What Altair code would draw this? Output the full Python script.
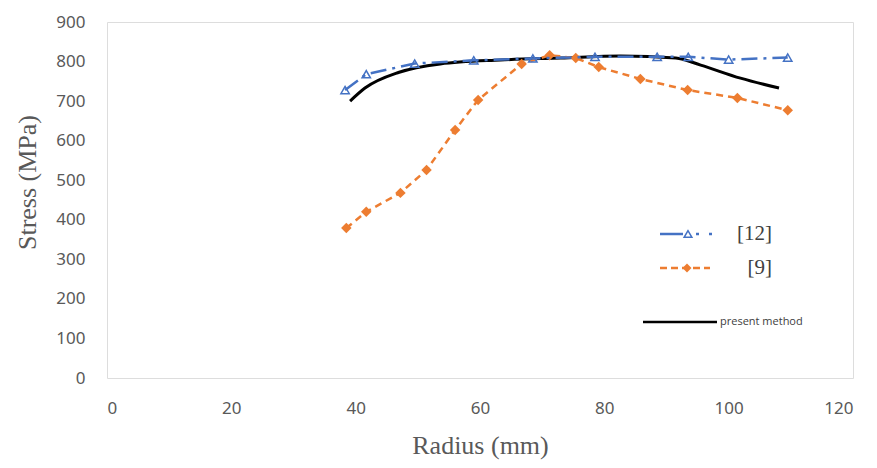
import altair as alt
import pandas as pd

# [12] series (blue, triangles)
r12 = [38.3, 41.7, 49.5, 59.0, 68.5, 78.5, 88.5, 93.5, 100.0, 109.5]
s12 = [728, 768, 795, 803, 808, 812, 812, 812, 805, 810]

# [9] series (orange, diamonds)
r9 = [38.5, 41.7, 47.2, 51.4, 56.0, 59.7, 66.7, 71.2, 75.4, 79.1, 85.8, 93.4, 101.4, 109.5]
s9 = [379, 420, 468, 526, 627, 703, 794, 816, 809, 786, 756, 728, 708, 677]

# present method (black line)
rp = [39.1, 41.5, 47.0, 53.6, 63.3, 73.0, 82.6, 91.5, 95.5, 101.9, 108.1]
sp = [700, 733, 773, 794, 804, 809, 814, 809, 791, 758, 733]

x_ticks = [0, 20, 40, 60, 80, 100, 120]
y_ticks = [0, 100, 200, 300, 400, 500, 600, 700, 800, 900]

BLUE = "#4472C4"
ORANGE = "#ED7D31"
GRAY = "#595959"

d12 = pd.DataFrame({"r": r12, "s": s12})
d9 = pd.DataFrame({"r": r9, "s": s9})
dp = pd.DataFrame({"r": rp, "s": sp})

xs = alt.Scale(domain=[0, 120], nice=False)
ys = alt.Scale(domain=[0, 900], nice=False)

x_axis = alt.Axis(
    values=x_ticks, title="Radius (mm)", domain=False, ticks=False, grid=False,
    labelOverlap=False,
    labelFont="Noto Sans", labelFontSize=17, labelColor=GRAY, labelPadding=22,
    titleFont="Liberation Serif", titleFontSize=26, titleColor=GRAY,
    titleFontWeight="normal", titlePadding=16)
y_axis = alt.Axis(
    values=y_ticks, title="Stress (MPa)", domain=False, ticks=False, grid=False,
    labelOverlap=False,
    labelFont="Noto Sans", labelFontSize=17, labelColor=GRAY, labelPadding=22,
    titleFont="Liberation Serif", titleFontSize=26, titleColor=GRAY,
    titleFontWeight="normal", titleX=-80, titleY=160, titleAngle=-90,
    titleAlign="center", titleBaseline="middle")


def enc(ch):
    return ch.encode(x=alt.X("r:Q", scale=xs, axis=x_axis), y=alt.Y("s:Q", scale=ys, axis=y_axis))


black = enc(alt.Chart(dp).mark_line(color="black", strokeWidth=3, interpolate="monotone"))
l9 = enc(alt.Chart(d9).mark_line(color=ORANGE, strokeWidth=2.5, strokeDash=[7, 5]))
p9 = enc(alt.Chart(d9).mark_point(shape="diamond", filled=True, color=ORANGE, size=110, opacity=1))
l12 = enc(alt.Chart(d12).mark_line(color=BLUE, strokeWidth=2.5, strokeDash=[16, 6, 3, 6]))
p12 = enc(alt.Chart(d12).mark_point(shape="triangle-up", filled=False, color=BLUE, size=70, strokeWidth=1.5, opacity=1))

one = pd.DataFrame({"k": [0]})
base = alt.Chart(one)

leg = [
    base.mark_rule(color=BLUE, strokeWidth=2.5).encode(x=alt.value(553), x2=alt.value(576), y=alt.value(212)),
    base.mark_point(shape="triangle-up", filled=False, color=BLUE, size=60, strokeWidth=1.5, opacity=1).encode(x=alt.value(581), y=alt.value(212)),
    base.mark_rule(color=BLUE, strokeWidth=2.5, strokeDash=[3, 10]).encode(x=alt.value(589), x2=alt.value(610), y=alt.value(212)),
    base.mark_text(text="[12]", align="right", baseline="middle", font="Liberation Serif", fontSize=21, color="#404040").encode(x=alt.value(665), y=alt.value(212)),
    base.mark_rule(color=ORANGE, strokeWidth=2.5, strokeDash=[7, 4]).encode(x=alt.value(553), x2=alt.value(603), y=alt.value(246)),
    base.mark_point(shape="diamond", filled=True, color=ORANGE, size=80, opacity=1).encode(x=alt.value(580), y=alt.value(246)),
    base.mark_text(text="[9]", align="right", baseline="middle", font="Liberation Serif", fontSize=21, color="#404040").encode(x=alt.value(665), y=alt.value(246)),
    base.mark_rule(color="black", strokeWidth=2.5).encode(x=alt.value(536), x2=alt.value(610), y=alt.value(300)),
    base.mark_text(text="present method", align="left", baseline="middle", font="Open Sans", fontSize=11, color="#404040").encode(x=alt.value(613), y=alt.value(300)),
]

chart = alt.layer(black, l9, p9, l12, p12, *leg).properties(
    width=746, height=356,
    autosize=alt.AutoSizeParams(type="none"),
    padding={"left": 99, "top": 14, "right": 16, "bottom": 82},
).configure_view(stroke="#d9d9d9", strokeWidth=1.5).configure_axis(
    labelOverlap=False
).configure(background="white")

chart.save("out.html", embed_options={"renderer": "svg", "actions": False})
